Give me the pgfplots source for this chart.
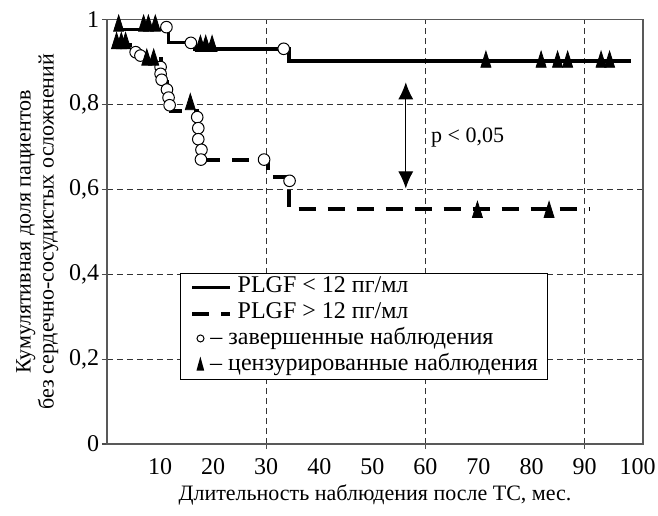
\documentclass[border=0pt]{standalone}
\usepackage{fontspec}
\setmainfont{Liberation Serif}
\usepackage{pgfplots}
\pgfplotsset{compat=1.18}
\usetikzlibrary{arrows.meta}
\begin{document}
\fontsize{11pt}{13pt}\selectfont
\begin{tikzpicture}
\begin{axis}[
  scale only axis,
  width=268pt, height=212.25pt,
  xmin=0, xmax=101, ymin=0, ymax=1,
  clip=false,
  font=\fontsize{11pt}{13pt}\selectfont,
  /pgf/number format/assume math mode=true,
  axis line style={draw=black!65, line width=0.7pt},
  tick align=outside,
  xtick pos=bottom, ytick pos=left,
  major tick length=2.5pt,
  tick style={draw=black!70, line width=0.6pt},
  xtick={30,60,90},
  xmajorgrids,
  extra x ticks={10,20,40,50,70,80,100},
  extra x tick style={grid=none, tick style={draw=none}},
  ytick={0,0.2,0.4,0.6,0.8,1},
  yticklabels={0,{0,2},{0,4},{0,6},{0,8},1},
  ymajorgrids,
  major grid style={draw=black!80, line width=0.5pt, dash pattern=on 3pt off 2pt},
  tick label style={font=\fontsize{12pt}{14pt}\selectfont},
  xticklabel style={inner sep=0pt, anchor=north, yshift=-4.5pt},
  yticklabel style={inner sep=0pt, anchor=east, xshift=-1.25pt},
  xlabel={Длительность наблюдения после ТС, мес.},
  xlabel style={at={(axis description cs:0.5,0)}, anchor=base, yshift=-28.25pt, inner sep=0pt},
  ylabel={Кумулятивная доля пациентов\\без сердечно-сосудистых осложнений},
  ylabel style={align=center, font=\fontsize{11pt}{11.5pt}\selectfont, at={(axis description cs:-0.090,0.5)}, anchor=south, inner sep=0pt},
  legend cell align=left,
  legend style={at={(axis description cs:0.136,0.403)}, anchor=north west,
    draw=black, line width=0.6pt, fill=white, inner xsep=5pt, inner ysep=0.5pt,
    row sep=0pt, column sep=2.5pt,
    nodes={text height=7.5pt, text depth=2.5pt, inner ysep=1.5pt, inner xsep=0pt},
    font=\fontsize{12pt}{13pt}\selectfont},
  legend image code/.code={\draw[#1] (0pt,0pt) -- (19pt,0pt);},
]
% PLGF < 12 (solid)
\addplot[const plot, black, line width=1.75pt] coordinates {
 (1.8,0.977) (11.6,0.946) (16.6,0.930) (34.3,0.902) (98.8,0.902)
};
\addlegendentry{PLGF < 12 пг/мл}
% PLGF > 12 (dashed)
\addplot[const plot, black, line width=2pt, dash pattern=on 8.5pt off 6pt] coordinates {
 (1.5,0.940) (5.4,0.925) (6.3,0.912) (10.1,0.888) (10.2,0.872) (10.4,0.858)
 (11.3,0.835) (11.6,0.816) (11.8,0.798) (12.0,0.784) (17.0,0.770) (17.2,0.744)
 (17.3,0.718) (17.7,0.693) (17.9,0.670) (30.4,0.629) (34.3,0.553) (90.9,0.553)
};
\addlegendentry{PLGF > 12 пг/мл}
\addlegendimage{empty legend}
\addlegendentry{\hspace*{-20.5pt}\tikz[baseline=-0.55ex]\draw[line width=0.5pt] (0,0) circle (1.75pt);\ – завершенные наблюдения}
\addlegendimage{empty legend}
\addlegendentry{\hspace*{-20.5pt}\tikz[baseline=0pt]\fill (0,0)--(3.85pt,0)--(1.925pt,7pt)--cycle;\ – цензурированные наблюдения}
% completed observations (circles)
\addplot[only marks, mark=*, mark size=2.9pt, mark options={fill=white, draw=black, line width=0.5pt}, forget plot] coordinates {
 (11.2,0.982) (15.8,0.945) (33.3,0.931)
 (5.4,0.923) (6.3,0.915) (10.1,0.888) (10.1,0.872) (10.3,0.858) (11.3,0.835)
 (11.6,0.816) (11.8,0.798) (17.0,0.770) (17.2,0.744) (17.2,0.718) (17.8,0.693)
 (17.7,0.670) (29.6,0.670) (34.4,0.620)
};
% censored observations (triangles)
\addplot[only marks, mark=triangle*, mark size=2.9pt, mark options={yscale=1.84, fill=black, draw=none}, forget plot] coordinates {
 (2.2,0.985) (6.9,0.985) (7.8,0.985) (9.1,0.985)
 (17.6,0.937) (18.6,0.937) (19.8,0.937)
 (71.4,0.900) (81.8,0.900) (84.9,0.900) (86.8,0.900) (93.1,0.900) (94.7,0.900)
 (1.8,0.944) (2.7,0.944) (3.5,0.944) (7.5,0.905) (8.8,0.905) (15.7,0.800)
 (69.8,0.546) (83.3,0.546)
};
\draw[{Latex[length=8.5pt,width=7.5pt]}-{Latex[length=8.5pt,width=7.5pt]}, line width=0.5pt] (axis cs:56.3,0.852) -- (axis cs:56.3,0.602);
\node[anchor=base west, inner sep=0pt] at (axis cs:61,0.711) {p < 0,05};
\end{axis}
\path (current axis.south west) ++(-53.5pt,-35.5pt) rectangle ++(329pt,257.5pt);
\end{tikzpicture}
\end{document}
